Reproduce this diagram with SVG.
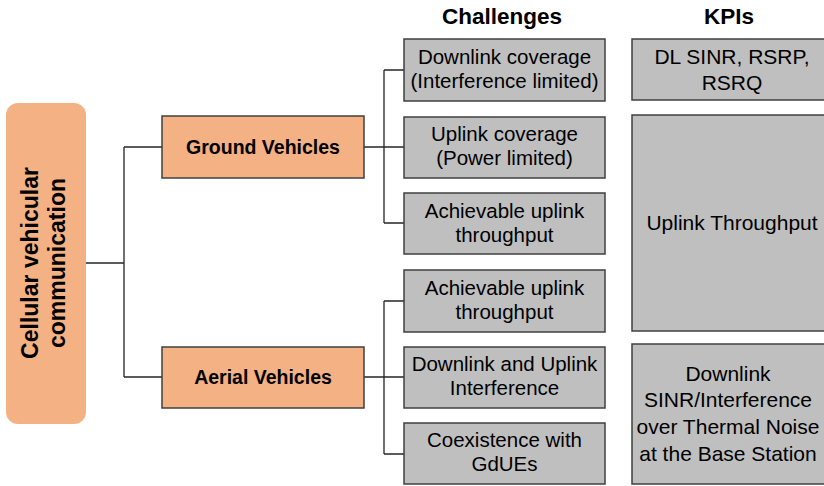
<svg xmlns="http://www.w3.org/2000/svg" width="824" height="486" viewBox="0 0 824 486">
<style>
  text { font-family: "Liberation Sans", Arial, sans-serif; fill: #000; text-anchor: middle; }
  .hd { font-size: 22.5px; font-weight: bold; }
  .b { font-size: 19.5px; font-weight: bold; }
  .rt { font-size: 23px; font-weight: bold; }
  .t { font-size: 20.5px; }
  .k { font-size: 21px; }
  .root { fill: #F4B183; }
  .cat { fill: #F4B183; stroke: #404040; stroke-width: 1.5; }
  .box { fill: #BFBFBF; stroke: #404040; stroke-width: 1.5; }
  .conn path { fill: none; stroke: #262626; stroke-width: 1.3; }
</style>
<rect width="824" height="486" fill="#fff"/>
<text class="hd" x="502" y="24">Challenges</text>
<text class="hd" x="729" y="24">KPIs</text>
<g class="conn" id="connectors">
  <path d="M86 263 H124 M124 147 V377 M124 147 H162 M124 377 H162"/>
  <path d="M364 147 H404 M384 70 V223 M384 70 H404 M384 223 H404"/>
  <path d="M364 377 H404 M384 301 V454 M384 301 H404 M384 454 H404"/>
</g>
<g id="root">
  <rect class="root" x="6" y="103" width="80" height="321" rx="12"/>
  <g transform="translate(46,263) rotate(-90)">
    <text class="rt" x="0" y="-8">Cellular vehicular</text>
    <text class="rt" x="0" y="19">communication</text>
  </g>
</g>
<g id="ground">
  <rect class="cat" x="162" y="116" width="202" height="62"/>
  <text class="b" x="263" y="154">Ground Vehicles</text>
</g>
<g id="aerial">
  <rect class="cat" x="162" y="347" width="202" height="61"/>
  <text class="b" x="263" y="384">Aerial Vehicles</text>
</g>
<g id="c1">
  <rect class="box" x="404" y="39" width="201" height="62"/>
  <text class="t" x="504.5" y="64">Downlink coverage</text>
  <text class="t" x="504.5" y="88">(Interference limited)</text>
</g>
<g id="c2">
  <rect class="box" x="404" y="117" width="201" height="61"/>
  <text class="t" x="504.5" y="141">Uplink coverage</text>
  <text class="t" x="504.5" y="165">(Power limited)</text>
</g>
<g id="c3">
  <rect class="box" x="404" y="193" width="201" height="61"/>
  <text class="t" x="504.5" y="218">Achievable uplink</text>
  <text class="t" x="504.5" y="242">throughput</text>
</g>
<g id="c4">
  <rect class="box" x="404" y="270" width="201" height="62"/>
  <text class="t" x="504.5" y="295">Achievable uplink</text>
  <text class="t" x="504.5" y="319">throughput</text>
</g>
<g id="c5">
  <rect class="box" x="404" y="347" width="201" height="61"/>
  <text class="t" x="504.5" y="371">Downlink and Uplink</text>
  <text class="t" x="504.5" y="395">Interference</text>
</g>
<g id="c6">
  <rect class="box" x="404" y="423" width="201" height="61"/>
  <text class="t" x="504.5" y="447">Coexistence with</text>
  <text class="t" x="504.5" y="471">GdUEs</text>
</g>
<g id="k1">
  <rect class="box" x="632" y="39" width="200" height="61"/>
  <text class="k" x="732" y="64">DL SINR, RSRP,</text>
  <text class="k" x="732" y="90">RSRQ</text>
</g>
<g id="k2">
  <rect class="box" x="632" y="115" width="200" height="216"/>
  <text class="k" x="732" y="230">Uplink Throughput</text>
</g>
<g id="k3">
  <rect class="box" x="632" y="344" width="200" height="140"/>
  <text class="k" x="728" y="381">Downlink</text>
  <text class="k" x="728" y="407">SINR/Interference</text>
  <text class="k" x="728" y="434">over Thermal Noise</text>
  <text class="k" x="728" y="461">at the Base Station</text>
</g>
</svg>
